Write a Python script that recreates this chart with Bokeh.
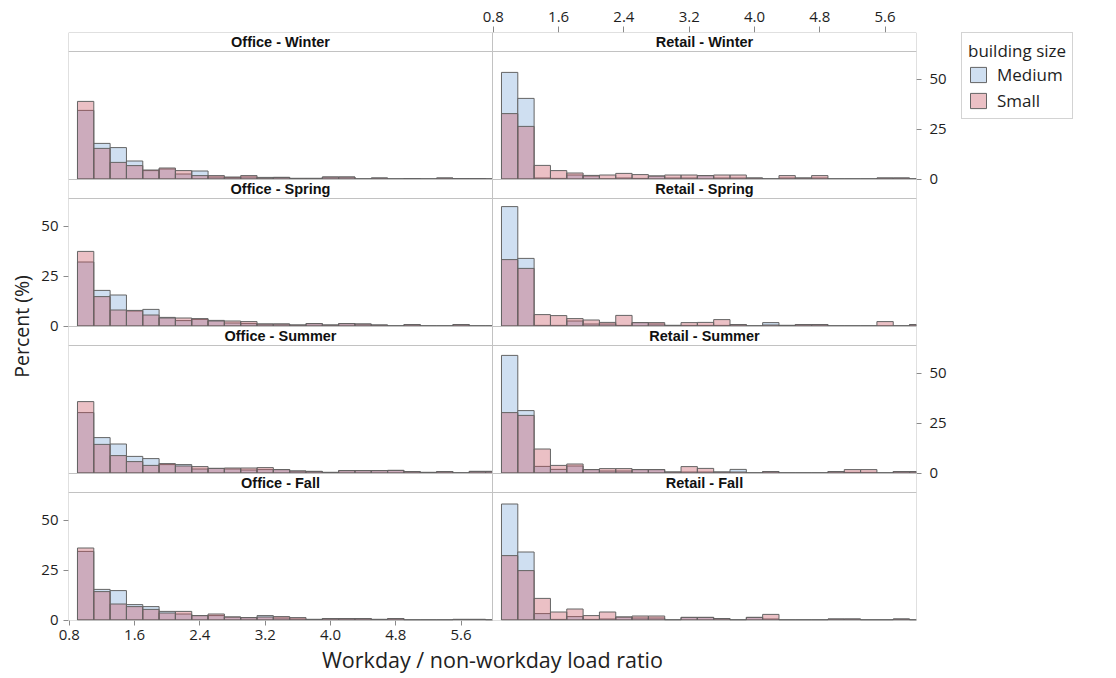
from bokeh.plotting import figure
from bokeh.layouts import row
from bokeh.models import (Range1d, LinearAxis, FixedTicker, PrintfTickFormatter,
                          CustomJSTickFormatter, Label, Legend, LegendItem,
                          BoxAnnotation)
from bokeh.embed import file_html
from bokeh.resources import INLINE

# ---------------- data ----------------
bin_left = [0.9, 1.1, 1.3, 1.5, 1.7, 1.9, 2.1, 2.3, 2.5, 2.7, 2.9, 3.1, 3.3,
            3.5, 3.7, 3.9, 4.1, 4.3, 4.5, 4.7, 4.9, 5.1, 5.3, 5.5, 5.7, 5.9]
bin_right = [1.1, 1.3, 1.5, 1.7, 1.9, 2.1, 2.3, 2.5, 2.7, 2.9, 3.1, 3.3, 3.5,
             3.7, 3.9, 4.1, 4.3, 4.5, 4.7, 4.9, 5.1, 5.3, 5.5, 5.7, 5.9, 6.1]

x_ticks = [0.8, 1.6, 2.4, 3.2, 4.0, 4.8, 5.6]
y_ticks = [0, 25, 50]

seasons = ["Winter", "Spring", "Summer", "Fall"]
types = ["Office", "Retail"]
sizes = ["Medium", "Small"]

office_winter_medium = [34.3, 17.8, 15.7, 9.0, 4.2, 5.0, 2.5, 4.0, 1.0, 0.7, 1.0, 0.8, 0.8, 0.3, 0.3, 1.0, 1.0, 0, 0.5, 0, 0.2, 0, 0.5, 0.2, 0.2, 0]
office_winter_small = [38.8, 15.3, 8.3, 6.7, 4.5, 5.5, 4.2, 1.7, 1.7, 1.0, 1.7, 0.5, 0.8, 0.3, 0.3, 1.0, 1.0, 0, 0.5, 0, 0.2, 0, 0.5, 0.2, 0.2, 0]

office_spring_medium = [32.0, 17.8, 15.5, 7.5, 8.3, 4.3, 2.7, 3.3, 2.8, 1.5, 1.2, 1.0, 1.0, 0.5, 1.2, 0.5, 1.2, 1.0, 0.5, 0, 0.7, 0, 0, 0.7, 0, 0]
office_spring_small = [37.3, 14.7, 8.0, 7.8, 5.5, 4.0, 4.0, 3.7, 2.5, 2.5, 2.2, 1.0, 1.0, 0.5, 1.2, 0.5, 1.2, 1.0, 0.5, 0, 0.7, 0, 0, 0.7, 0, 0]

office_summer_medium = [30.2, 17.7, 14.5, 8.3, 7.2, 4.2, 4.2, 2.0, 2.3, 2.0, 1.5, 1.7, 1.7, 1.0, 0.8, 0.3, 1.2, 1.2, 1.2, 1.3, 0.7, 0.3, 0.7, 0, 0.8, 0.8]
office_summer_small = [35.7, 14.3, 8.7, 5.7, 3.8, 4.7, 3.5, 3.2, 2.3, 2.5, 2.5, 2.7, 1.7, 1.0, 0.8, 0.3, 1.2, 1.2, 1.2, 1.3, 0.7, 0.3, 0.7, 0, 0.8, 0.8]

office_fall_medium = [34.3, 15.3, 14.7, 7.7, 6.7, 4.3, 3.0, 2.2, 2.2, 1.5, 1.2, 2.2, 1.0, 0.5, 0.3, 0.7, 0.7, 0.7, 0.3, 0.7, 0, 0, 0, 0.3, 0.3, 0]
office_fall_small = [36.0, 14.2, 8.0, 6.7, 5.3, 3.5, 4.3, 2.2, 3.0, 1.5, 1.2, 1.5, 1.7, 1.2, 0.3, 0.7, 0.7, 0.7, 0.3, 0.7, 0, 0, 0, 0.3, 0.3, 0]

retail_winter_medium = [53.3, 40.3, 0.5, 0.3, 2.0, 1.5, 0, 0.5, 0.3, 1.5, 0.5, 0.5, 1.7, 0.5, 0.5, 0.5, 0, 0.5, 0.5, 0.5, 0, 0, 0, 0.5, 0.5, 0]
retail_winter_small = [32.7, 26.3, 6.8, 4.2, 3.0, 1.8, 2.0, 2.8, 2.2, 1.5, 2.0, 2.0, 1.7, 2.0, 2.0, 0.5, 0, 1.7, 0.5, 1.7, 0, 0, 0, 0.5, 0.5, 0]

retail_spring_medium = [59.7, 33.8, 0.3, 0.3, 2.5, 1.0, 1.0, 0.3, 1.7, 1.0, 0.3, 0.3, 0.3, 0.3, 0.7, 0, 1.7, 0.3, 0.7, 0.7, 0, 0, 0, 0, 0, 0.7]
retail_spring_small = [33.2, 28.8, 5.7, 5.2, 3.7, 3.0, 1.8, 5.3, 1.7, 1.7, 0.3, 1.7, 1.8, 3.2, 0.7, 0, 0.5, 0.3, 0.7, 0.7, 0, 0, 0, 2.2, 0, 0.7]

retail_summer_medium = [58.8, 31.2, 3.3, 1.8, 3.5, 1.7, 1.0, 1.0, 1.7, 1.7, 0.5, 0.5, 0.5, 0.5, 1.8, 0, 0.7, 0, 0, 0, 0.7, 0.3, 0.3, 0, 0.7, 0.7]
retail_summer_small = [30.2, 28.8, 12.0, 3.8, 4.5, 1.7, 2.2, 2.2, 1.7, 1.7, 0.5, 3.2, 2.3, 0.5, 0.5, 0, 0.7, 0, 0, 0, 0.7, 1.7, 1.7, 0, 0.7, 0.7]

retail_fall_medium = [58.0, 34.0, 3.2, 0.3, 1.7, 0.3, 0.5, 1.5, 1.0, 1.0, 0, 1.3, 1.3, 0.7, 0, 1.3, 0.5, 0, 0, 0, 0.5, 0.5, 0, 0, 0.5, 0]
retail_fall_small = [32.2, 24.7, 10.8, 4.0, 5.5, 2.2, 4.0, 1.5, 2.0, 2.0, 0, 1.3, 1.3, 0.7, 0, 1.3, 2.8, 0, 0, 0, 0.5, 0.5, 0, 0, 0.5, 0]

panel_data = {
    ("Office", "Winter"): (office_winter_medium, office_winter_small),
    ("Office", "Spring"): (office_spring_medium, office_spring_small),
    ("Office", "Summer"): (office_summer_medium, office_summer_small),
    ("Office", "Fall"): (office_fall_medium, office_fall_small),
    ("Retail", "Winter"): (retail_winter_medium, retail_winter_small),
    ("Retail", "Spring"): (retail_spring_medium, retail_spring_small),
    ("Retail", "Summer"): (retail_summer_medium, retail_summer_small),
    ("Retail", "Fall"): (retail_fall_medium, retail_fall_small),
}

# ---------------- layout / style ----------------
MED_FILL = "#cfdff1"
SMALL_FILL = "#c8505f"
SMALL_ALPHA = 0.36
EDGE = "#646464"
BORDER = "#c2c2c2"
FONT = "Open Sans"
TXT = "#1e1e1e"

PANEL_W = 424          # px width of one facet
HEADER_H = 19          # px height of strip header
PLOT_H = 128           # px height of plot area
ROW_H = HEADER_H + PLOT_H
FRAME_W = 2 * PANEL_W
FRAME_H = 4 * ROW_H

X0, X1 = 0.79, 5.985   # x-limits of one facet
Y0, Y1 = -0.25, 63.75  # y-limits of one facet
UPP = (Y1 - Y0) / PLOT_H   # data units per px (y)

p = figure(frame_width=FRAME_W, frame_height=FRAME_H,
           x_range=Range1d(0, FRAME_W), y_range=Range1d(0, FRAME_H),
           x_axis_location=None, y_axis_location=None,
           output_backend="svg", toolbar_location=None,
           min_border_left=68, min_border_right=45,
           min_border_top=32, min_border_bottom=56,
           background_fill_color="white", border_fill_color="white")
p.outline_line_color = None
for g in p.grid:
    g.visible = False

# facet ranges: each facet's data maps onto its own sub-rectangle
xspan = X1 - X0
p.extra_x_ranges = {
    "Office": Range1d(X0, X0 + 2 * xspan),
    "Retail": Range1d(X0 - xspan, X1),
}
row_bottom = {s: (3 - i) * ROW_H for i, s in enumerate(seasons)}
p.extra_y_ranges = {
    s: Range1d(Y0 - row_bottom[s] * UPP, Y0 - row_bottom[s] * UPP + FRAME_H * UPP)
    for s in seasons
}

# strip headers and panel borders
for ci, btype in enumerate(types):
    for s in seasons:
        b = row_bottom[s]
        p.add_layout(BoxAnnotation(left=ci * PANEL_W, right=(ci + 1) * PANEL_W,
                                   bottom=b + PLOT_H, top=b + ROW_H,
                                   fill_color="white", fill_alpha=1.0,
                                   line_color=BORDER, line_alpha=1.0,
                                   line_width=1, line_dash="solid"))
        p.add_layout(BoxAnnotation(left=ci * PANEL_W, right=(ci + 1) * PANEL_W,
                                   bottom=b, top=b + PLOT_H,
                                   fill_alpha=0.0, line_color=BORDER,
                                   line_alpha=1.0, line_width=1,
                                   line_dash="solid"))
        p.add_layout(Label(x=ci * PANEL_W + PANEL_W / 2, y=b + PLOT_H + HEADER_H / 2,
                           text=f"{btype} - {s}", text_align="center",
                           text_baseline="middle", text_font="Liberation Sans",
                           text_font_size="14.5px", text_font_style="bold",
                           text_color="#111111"))

# bars
right_edges = [min(r, X1) for r in bin_right]
for btype in types:
    for s in seasons:
        med, small = panel_data[(btype, s)]
        p.quad(left=bin_left, right=right_edges, bottom=0, top=med,
               x_range_name=btype, y_range_name=s,
               fill_color=MED_FILL, fill_alpha=1.0,
               line_color=EDGE, line_width=1)
        p.quad(left=bin_left, right=right_edges, bottom=0, top=small,
               x_range_name=btype, y_range_name=s,
               fill_color=SMALL_FILL, fill_alpha=SMALL_ALPHA,
               line_color=EDGE, line_width=1)


def style_axis(ax, standoff, tick_out=5):
    ax.major_label_text_font = FONT
    ax.major_label_text_font_size = "15px"
    ax.major_label_text_color = TXT
    ax.axis_line_color = None
    ax.major_tick_line_color = "#8a8a8a"
    ax.major_tick_out = tick_out
    ax.major_tick_in = 0
    ax.minor_tick_line_color = None
    ax.major_label_standoff = standoff
    ax.axis_label_text_font = FONT
    ax.axis_label_text_font_style = "normal"
    ax.axis_label_text_color = "#222222"


# x axes (Office below, Retail above)
xb = LinearAxis(x_range_name="Office", ticker=FixedTicker(ticks=x_ticks),
                formatter=PrintfTickFormatter(format="%.1f"),
                axis_label="Workday / non-workday load ratio")
style_axis(xb, 4)
xb.axis_label_text_font_size = "21.5px"
xb.axis_label_standoff = 2
p.add_layout(xb, "below")

xt = LinearAxis(x_range_name="Retail", ticker=FixedTicker(ticks=x_ticks),
                formatter=PrintfTickFormatter(format="%.1f"))
style_axis(xt, 5, tick_out=6)
p.add_layout(xt, "above")

# y axes: left for Office Spring/Fall, right for Retail Winter/Summer
fmt_code = f"return Math.round(((tick % {ROW_H}) - {-Y0 / UPP}) * {UPP}).toString();"


def y_positions(rows):
    out = []
    for s in rows:
        for v in y_ticks:
            out.append(row_bottom[s] + (v - Y0) / UPP)
    return sorted(out)


yl = LinearAxis(ticker=FixedTicker(ticks=y_positions(["Spring", "Fall"])),
                formatter=CustomJSTickFormatter(code=fmt_code),
                axis_label="Percent (%)")
style_axis(yl, 5)
yl.axis_label_text_font_size = "19.5px"
yl.axis_label_standoff = 3
p.add_layout(yl, "left")

yr = LinearAxis(ticker=FixedTicker(ticks=y_positions(["Winter", "Summer"])),
                formatter=CustomJSTickFormatter(code=fmt_code))
style_axis(yr, 8)
p.add_layout(yr, "right")

# legend panel (separate figure to the right of the facets;
# its swatch renderers use the first facet's data, kept out of view)
lf = figure(frame_width=150, frame_height=FRAME_H, min_border=0,
            min_border_top=28, min_border_bottom=56,
            x_range=Range1d(0, 1), y_range=Range1d(1000, 1001),
            x_axis_location=None, y_axis_location=None,
            output_backend="svg", toolbar_location=None,
            background_fill_color="white", border_fill_color="white")
lf.outline_line_color = None
for g in lf.grid:
    g.visible = False
r_med = lf.quad(left=bin_left, right=bin_right, bottom=0, top=office_winter_medium,
                fill_color=MED_FILL, fill_alpha=1.0, line_color=EDGE, line_width=1)
r_small = lf.quad(left=bin_left, right=bin_right, bottom=0, top=office_winter_small,
                  fill_color=SMALL_FILL, fill_alpha=SMALL_ALPHA, line_color=EDGE,
                  line_width=1)
leg = Legend(items=[LegendItem(label=sizes[0], renderers=[r_med]),
                    LegendItem(label=sizes[1], renderers=[r_small])],
             title="building size", location="top_left")
leg.margin = 0
leg.padding = 6
leg.spacing = 3
leg.glyph_width = 20
leg.glyph_height = 19
leg.label_standoff = 9
leg.label_height = 19
leg.label_text_font = FONT
leg.label_text_font_size = "17px"
leg.label_text_color = TXT
leg.title_text_font = FONT
leg.title_text_font_size = "17px"
leg.title_text_font_style = "normal"
leg.title_text_color = TXT
leg.title_standoff = 1
leg.border_line_color = "#a8a8a8"
leg.border_line_width = 1
leg.background_fill_color = "white"
leg.background_fill_alpha = 1.0
lf.add_layout(leg)

layout = row(p, lf)
open("out.html", "w").write(file_html(layout, INLINE))
